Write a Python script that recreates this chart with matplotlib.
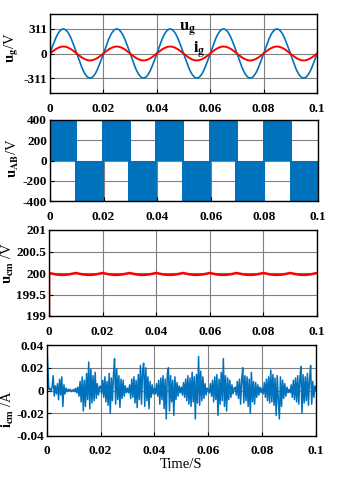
import numpy as np
import matplotlib
matplotlib.use("Agg")
import matplotlib.pyplot as plt

plt.rcParams["font.family"] = ["Liberation Serif", "DejaVu Serif"]
plt.rcParams["font.weight"] = "bold"
plt.rcParams["mathtext.fontset"] = "stix"

BLUE = "#0072BD"
RED = "#FF0000"

# shared x axis
xticks = [0, 0.02, 0.04, 0.06, 0.08, 0.1]
xtick_labels = ["0", "0.02", "0.04", "0.06", "0.08", "0.1"]

# panel 1: grid voltage / current, half cycle read every 0.5 ms (V, scaled A)
ug_half = [0, 49, 96, 141, 183, 220, 252, 277, 296, 307,
           311, 307, 296, 277, 252, 220, 183, 141, 96, 49]
ig_half = [0, 14, 27, 40, 52, 62, 71, 78, 84, 87,
           88, 87, 84, 78, 71, 62, 52, 40, 27, 14]
n_cycles = 5
step1 = 0.0005

# panel 2: u_AB switching blocks (start, end) in s
uab_pos_start = [0.0, 0.0193, 0.0393, 0.0593, 0.0793]
uab_pos_end = [0.0102, 0.0302, 0.0501, 0.0702, 0.0903]
uab_neg_start = [0.0093, 0.0292, 0.0493, 0.0692, 0.0896]
uab_neg_end = [0.0201, 0.0401, 0.0602, 0.0801, 0.1]
uab_level = 400

# panel 3: common-mode voltage ripple (mV below 200 V), one 10 ms period
ucm_dip_mv = [0, 7, 14, 20, 26, 32, 36, 40, 43, 44,
              45, 44, 43, 40, 36, 32, 26, 20, 14, 7]
ucm_start = 199.0
n_periods = 10

# panel 4: common-mode current (mA), read every 0.4 ms
icm_ma = [
    40, 22, 1, 2, -1, 3, 13, -5, 4, -3, 6, -8, 10, -4, 12, -14, 5, -3, 2, -1, 1, 0, 1, -1, 0,
    1, -1, 2, -2, 3, -5, 8, -10, 12, -18, 9, -14, 15, -8, 25, -16, 19, -11, 13, -9, 16, -7, 6, -4, 3,
    4, -3, 9, -6, 12, -10, 8, -13, 15, -20, 11, -9, 14, 28, -12, 19, -8, 13, -15, 10, -7, 9, -5, 4, -2,
    2, -2, 5, -7, 10, -6, 12, -11, 9, -15, 14, -8, 22, -12, 17, 24, -14, 20, -9, 12, -16, 8, -6, 5, -3,
    2, -3, 6, -5, 9, -12, 11, -8, 13, -16, 10, -25, 15, 20, -18, 13, -10, 9, -22, 12, -8, 7, -5, 4, -2,
    3, -4, 7, -6, 10, -9, 13, -12, 11, -14, 16, -10, 12, -25, 14, -11, 30, -13, 17, -9, 12, -7, 6, -4, 2,
    1, -2, 6, -5, 9, -10, 12, -8, 14, -22, 10, -12, 16, -9, 28, -14, 13, -18, 11, -8, 9, -6, 5, -3, 2,
    3, -4, 8, -7, 10, -12, 9, 20, -11, 13, -9, 12, -14, 10, -20, 16, -10, 8, -12, 7, -6, 5, -4, 3, -2,
    2, -3, 7, -6, 10, -9, 12, -11, 18, -10, 14, -13, 11, -22, 13, -9, -25, 12, -14, 9, -7, 6, -5, 3, -2,
    1, -2, 5, -6, 9, -8, 11, -10, 13, -12, 10, 21, -20, 14, -11, 12, -9, 15, -13, 10, 22, -12, 8, -6, 4,
    0,
]
step4 = 0.0004

TICK_SIZE = 9.5
LABEL_SIZE = 10.5


def style(ax, yticks, ytick_labels, ylim, xpad=7.5):
    ax.set_xlim(0, 0.1)
    ax.set_ylim(*ylim)
    ax.set_xticks(xticks)
    ax.set_xticklabels(xtick_labels)
    ax.set_yticks(yticks)
    ax.set_yticklabels(ytick_labels)
    ax.grid(True, color="0.5", linewidth=0.8)
    ax.set_axisbelow(True)
    ax.tick_params(axis="both", direction="in", length=3, width=0.8, labelsize=TICK_SIZE)
    ax.tick_params(axis="x", pad=xpad)
    ax.tick_params(axis="y", pad=2)
    for s in ax.spines.values():
        s.set_linewidth(1.0)
        s.set_zorder(5)


fig = plt.figure(figsize=(3.37, 4.8), dpi=100)
W, H = 337, 480


def add_axes(left, right, top, bottom):
    return fig.add_axes([left / W, 1 - bottom / H, (right - left) / W, (bottom - top) / H])


# panel 1
ug_cycle = ug_half + [-v for v in ug_half]
ig_cycle = ig_half + [-v for v in ig_half]
ug = np.array(ug_cycle * n_cycles + [0])
ig = np.array(ig_cycle * n_cycles + [0])
t1 = np.arange(len(ug)) * step1

ax1 = add_axes(50, 317, 14, 93)
ax1.plot(t1, ug, color=BLUE, lw=1.2)
ax1.plot(t1, ig, color=RED, lw=1.4)
style(ax1, [-311, 0, 311], ["-311", "0", "311"], (-500, 500), xpad=7.5)
ax1.text(0.0485, 300, r"$\mathbf{u_g}$", fontsize=12, ha="left", va="center")
ax1.text(0.0535, 40, r"$\mathbf{i_g}$", fontsize=12, ha="left", va="center")
ax1.set_ylabel(r"$\mathbf{u_g}$/V", fontsize=LABEL_SIZE)
ax1.yaxis.set_label_coords(-0.11, 0.57)

# panel 2
ax2 = add_axes(50, 318, 120, 201)
ax2.bar(uab_pos_start, uab_level, width=np.subtract(uab_pos_end, uab_pos_start),
        bottom=0, align="edge", color=BLUE, linewidth=0, zorder=2)
ax2.bar(uab_neg_start, uab_level, width=np.subtract(uab_neg_end, uab_neg_start),
        bottom=-uab_level, align="edge", color=BLUE, linewidth=0, zorder=2)
style(ax2, [-400, -200, 0, 200, 400], ["-400", "-200", "0", "200", "400"], (-400, 400))
ax2.set_ylabel(r"$\mathbf{u_{AB}}$/V", fontsize=LABEL_SIZE)
ax2.yaxis.set_label_coords(-0.11, 0.53)

# panel 3
ucm = np.array([ucm_start] + [200 - d / 1000 for d in ucm_dip_mv * n_periods] + [200.0])
t3 = np.concatenate([[0.0], np.arange(len(ucm) - 1) * step1])
ax3 = add_axes(49, 317, 230, 316)
ax3.plot(t3, ucm, color=RED, lw=1.8)
style(ax3, [199, 199.5, 200, 200.5, 201], ["199", "199.5", "200", "200.5", "201"], (199, 201))
ax3.set_ylabel(r"$\mathbf{u_{cm}}$ /V", fontsize=LABEL_SIZE)
ax3.yaxis.set_label_coords(-0.123, 0.62)

# panel 4
icm = np.array(icm_ma) / 1000
t4 = np.arange(len(icm)) * step4
ax4 = add_axes(46.7, 316, 345, 436)
ax4.plot(t4, icm, color=BLUE, lw=1.1)
style(ax4, [-0.04, -0.02, 0, 0.02, 0.04], ["-0.04", "-0.02", "0", "0.02", "0.04"],
      (-0.04, 0.04), xpad=6.5)
ax4.set_ylabel(r"$\mathbf{i_{cm}}$ /A", fontsize=LABEL_SIZE)
ax4.yaxis.set_label_coords(-0.115, 0.30)
ax4.set_xlabel("Time/S", fontsize=10.5, labelpad=1)

fig.savefig("out.png", dpi=100)
plt.close(fig)
